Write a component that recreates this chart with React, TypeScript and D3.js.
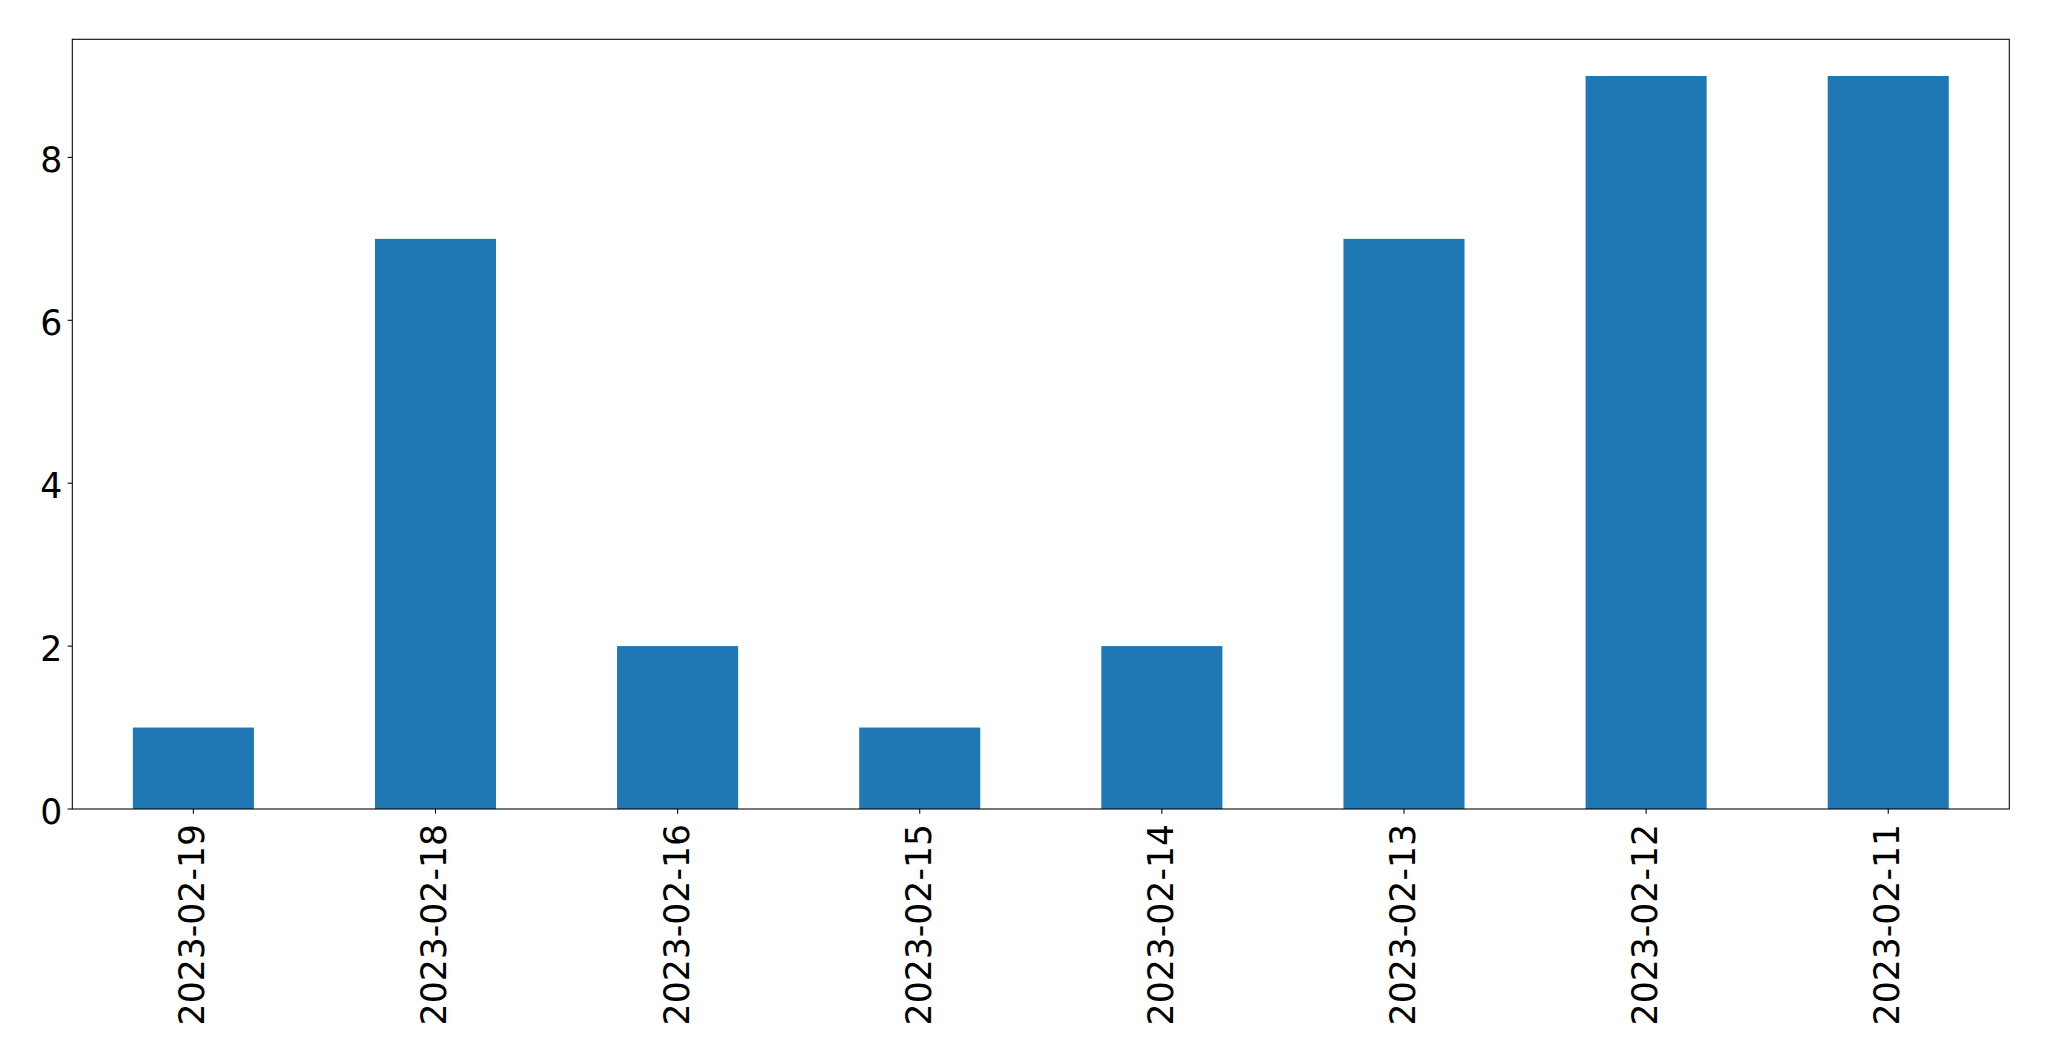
import React from "react";
import * as d3 from "d3";

const categories = ["2023-02-19", "2023-02-18", "2023-02-16", "2023-02-15", "2023-02-14", "2023-02-13", "2023-02-12", "2023-02-11"];
const values = [1, 7, 2, 1, 2, 7, 9, 9];
const yTicks = [0, 2, 4, 6, 8];

const W = 2049;
const H = 1061;
const left = 72.3;
const right = 2009.3;
const top = 39.3;
const bottom = 809;
const fontSize = 34.67;
const FONT = "DejaVu Sans, sans-serif";

export default function App() {
  const x = d3.scaleLinear().domain([-0.5, categories.length - 0.5]).range([left, right]);
  const yMax = d3.max(values)! * 1.05;
  const y = d3.scaleLinear().domain([0, yMax]).range([bottom, top]);
  const barW = 0.5;
  const tickLen = 4.67;
  return (
    <svg width={W} height={H} style={{ position: "absolute", left: 0, top: 0, background: "#fff" }}>
      <rect x={0} y={0} width={W} height={H} fill="#fff" />
      {values.map((v, i) => (
        <rect
          key={i}
          x={x(i - barW / 2)}
          width={x(i + barW / 2) - x(i - barW / 2)}
          y={y(v)}
          height={y(0) - y(v)}
          fill="#1f77b4"
        />
      ))}
      <rect x={left} y={top} width={right - left} height={bottom - top} fill="none" stroke="#000" strokeWidth={1.07} />
      {yTicks.map((t) => (
        <g key={t}>
          <line x1={left - tickLen} x2={left} y1={y(t)} y2={y(t)} stroke="#000" strokeWidth={1.07} />
          <text x={left - 10} y={y(t)} dy={14.5} textAnchor="end" fontFamily={FONT} fontSize={fontSize} fill="#000">
            {t}
          </text>
        </g>
      ))}
      {categories.map((c, i) => (
        <g key={c}>
          <line x1={x(i)} x2={x(i)} y1={bottom} y2={bottom + tickLen} stroke="#000" strokeWidth={1.07} />
          <text
            transform={`translate(${x(i)},${bottom + 15}) rotate(-90)`}
            dy={11}
            textAnchor="end"
            fontFamily={FONT}
            fontSize={fontSize}
            fill="#000"
          >
            {c}
          </text>
        </g>
      ))}
    </svg>
  );
}
